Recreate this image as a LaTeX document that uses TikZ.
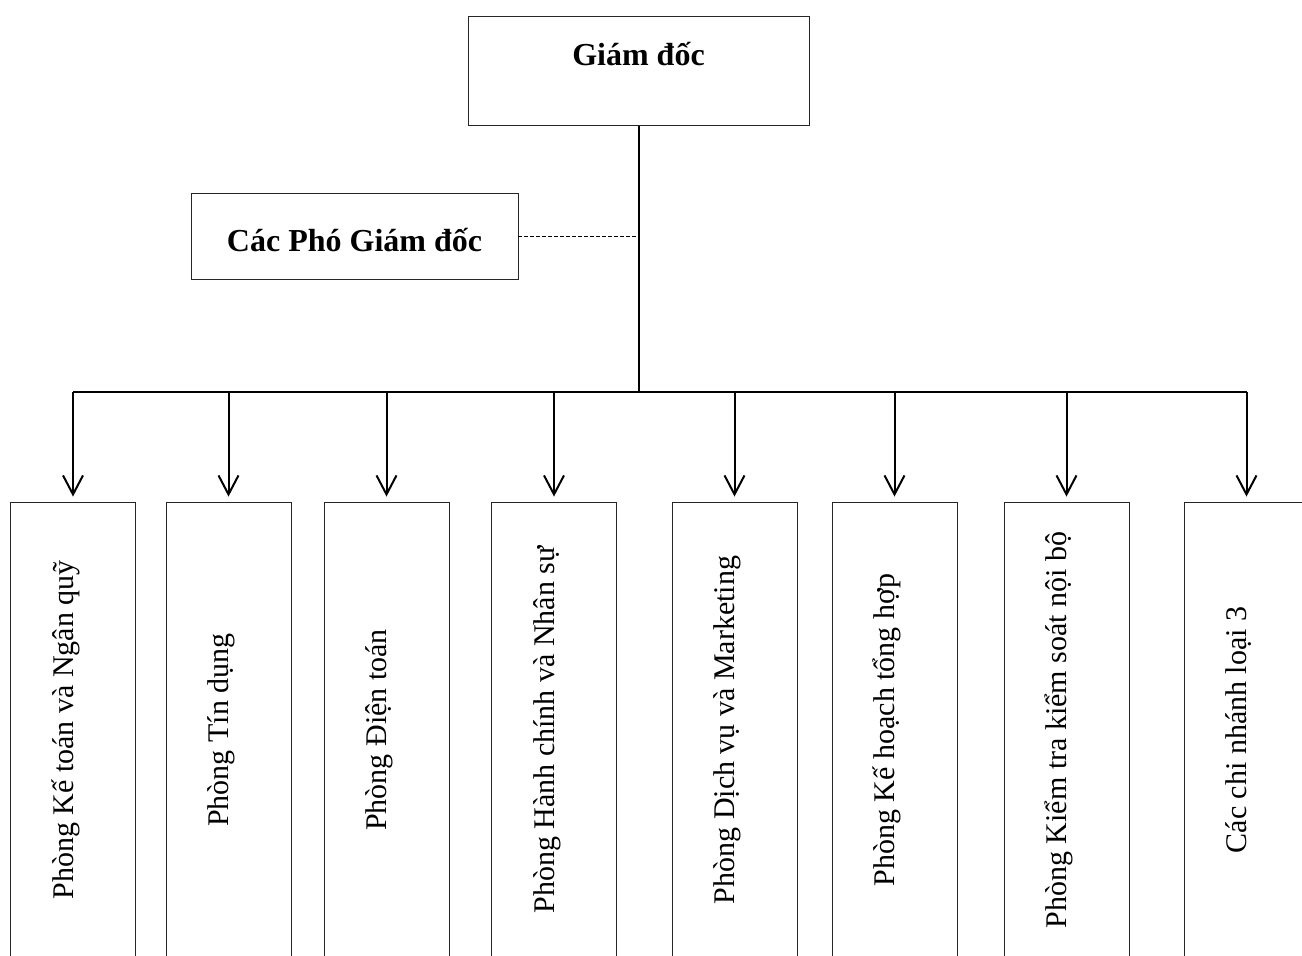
\documentclass[tikz,border=0pt]{standalone}
\usepackage{fontspec}
\setmainfont{Liberation Serif}
\usetikzlibrary{arrows.meta}

\begin{document}
\begin{tikzpicture}[x=1pt, y=-1pt,
        box/.style={draw=black!85, line width=0.9pt, inner sep=0pt,
            font=\fontsize{32}{38}\selectfont\bfseries},
        dept/.style={draw=black!85, line width=0.9pt, inner sep=0pt, rotate=90,
            minimum width=456pt, text height=62.5pt, text depth=62.5pt,
            font=\fontsize{30}{36}\selectfont},
        link/.style={line width=2pt},
        arr/.style={link, -{Straight Barb[length=19pt, width=20pt]}, shorten >=5pt}]
        \useasboundingbox (0,0) rectangle (1302,956);
        \clip (0,0) rectangle (1302,956);

        % Director
        \node[box, anchor=north, minimum width=341pt, text height=49pt, text depth=60pt]
            (gd) at (638.5,16) {Giám đốc};

        % Deputy directors
        \node[box, anchor=north, minimum width=327pt, text height=58pt, text depth=28pt]
            (pgd) at (354.5,193) {Các Phó Giám đốc};

        % Departments
        \node[dept] (kt) at (73,730)     {Phòng Kế toán và Ngân quỹ};
        \node[dept] (td) at (228.5,730)  {Phòng Tín dụng};
        \node[dept] (dt) at (386.5,730)  {Phòng Điện toán};
        \node[dept] (hc) at (554,730)    {Phòng Hành chính và Nhân sự};
        \node[dept] (dv) at (734.5,730)  {Phòng Dịch vụ và Marketing};
        \node[dept] (kh) at (894.5,730)  {Phòng Kế hoạch tổng hợp};
        \node[dept] (ks) at (1066.5,730) {Phòng Kiểm tra kiểm soát nội bộ};
        \node[dept] (cn) at (1246.5,730) {Các chi nhánh loại 3};

        % Trunk and bus
        \coordinate (hub) at (638.5,392);
        \draw[link] (gd.south) -- (hub);
        \draw[link] (kt.east |- hub) -- (cn.east |- hub);
        \draw[line width=1.8pt, dash pattern=on 4pt off 2pt] (pgd.east) -- (pgd.east -| gd.south);

        % Arrows down to the departments
        \foreach \d in {kt, td, dt, hc, dv, kh, ks, cn} {
            \draw[arr] (\d.east |- hub) -- (\d.east);
        }

    \end{tikzpicture}
\end{document}
